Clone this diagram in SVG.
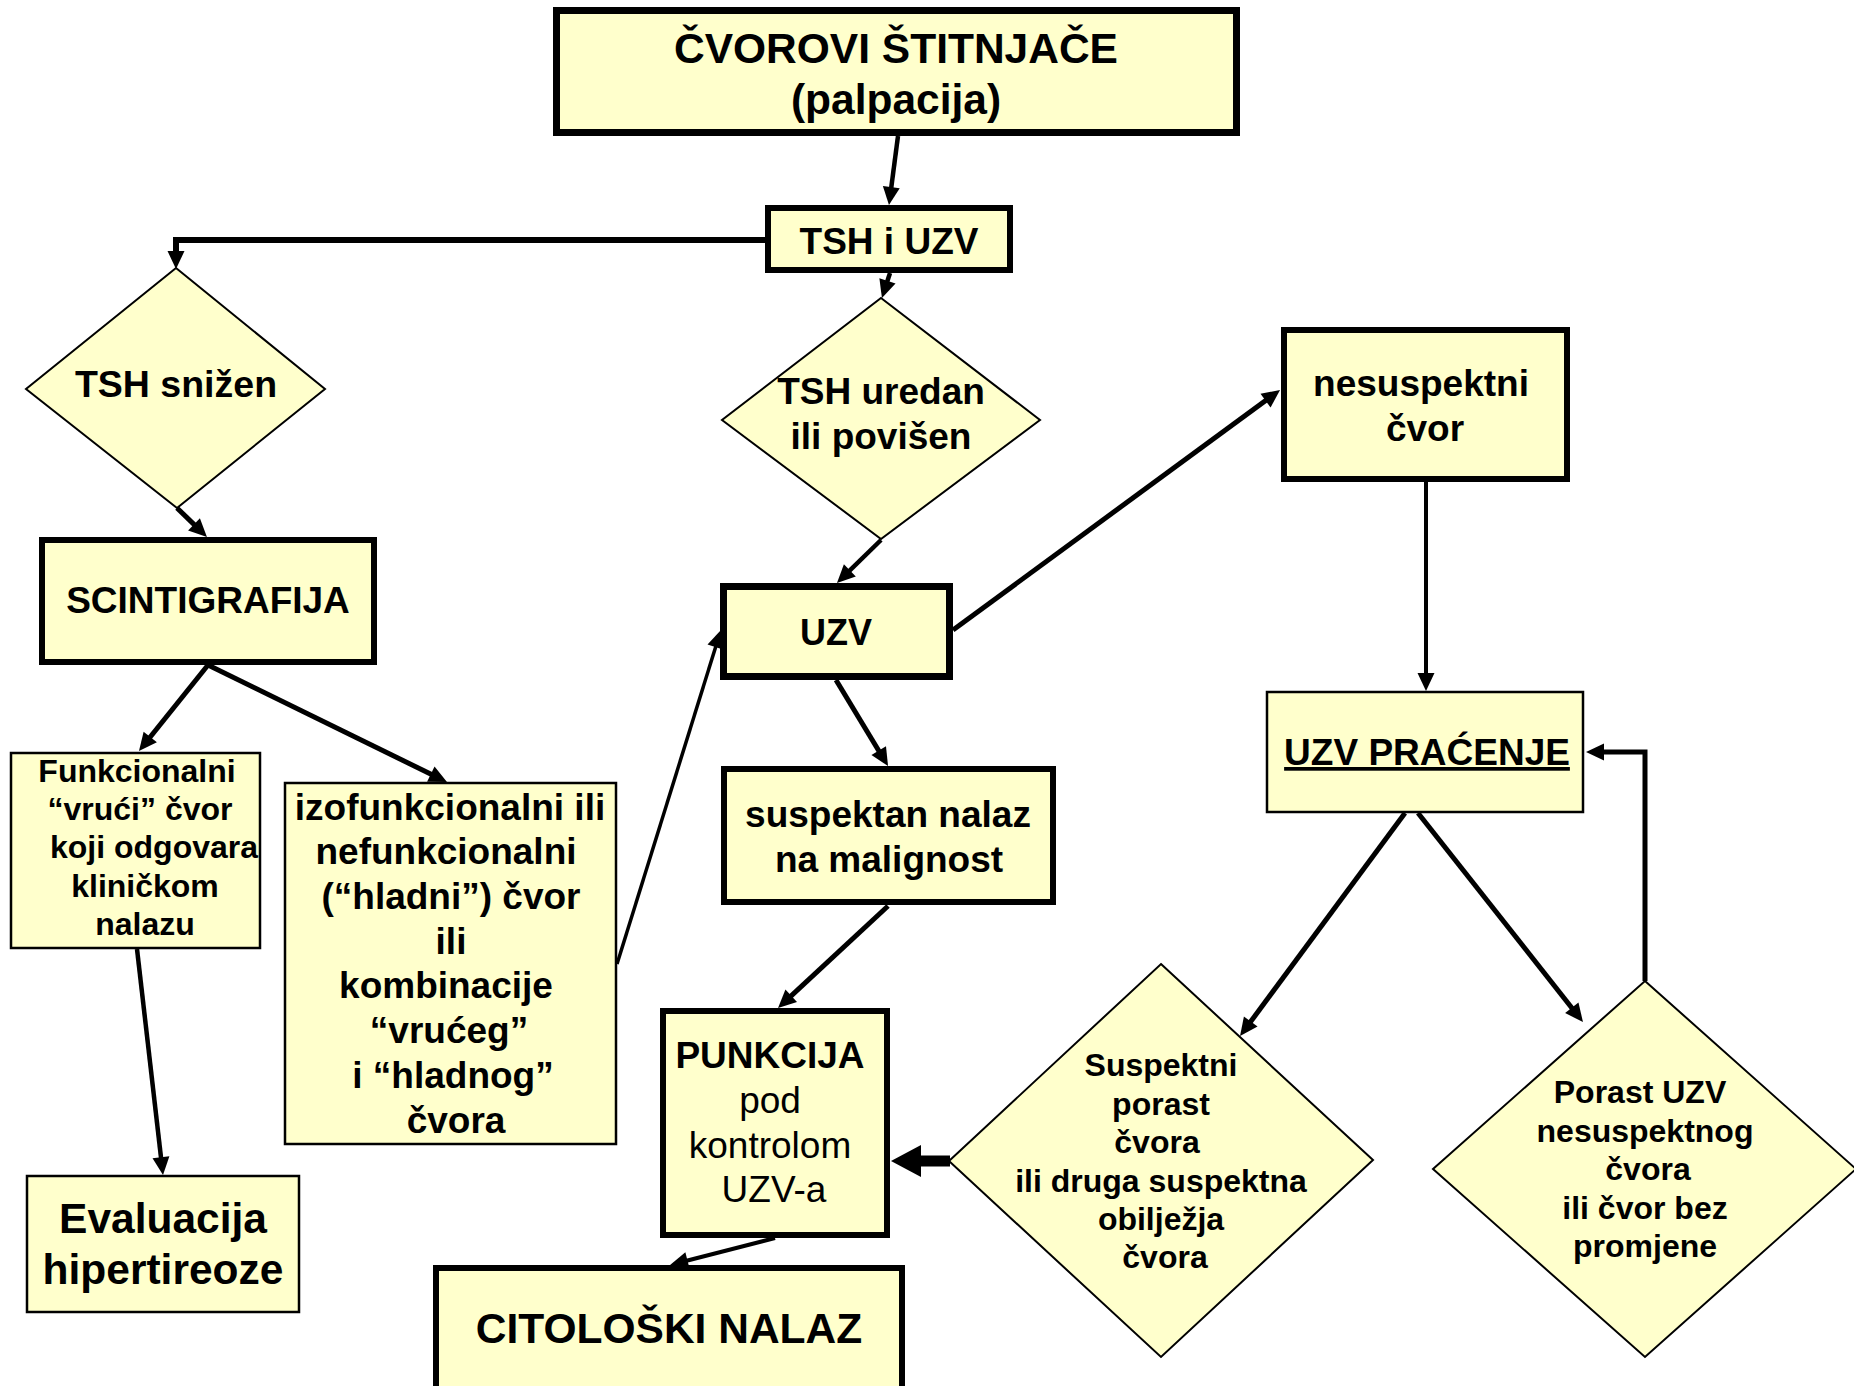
<svg xmlns="http://www.w3.org/2000/svg" width="1854" height="1386" viewBox="0 0 1854 1386">
<defs>
<style>
.box{fill:#FFFFCC;stroke:#000;}
.thick{stroke-width:6;}
.thin{stroke-width:2.5;}
.dia{fill:#FFFFCC;stroke:#000;stroke-width:2;stroke-linejoin:miter;}
text{font-family:"Liberation Sans",Arial,sans-serif;fill:#000;text-anchor:middle;}
.b{font-weight:bold;}
.c{fill:none;stroke:#000;stroke-linecap:butt;stroke-linejoin:miter;marker-end:url(#ah);}
</style>
<marker id="ah" markerUnits="userSpaceOnUse" markerWidth="18" markerHeight="17" refX="10" refY="8.5" orient="auto" overflow="visible">
<path d="M0,0 L18,8.5 L0,17 Z" fill="#000"/>
</marker>
</defs>
<rect width="1854" height="1386" fill="#fff"/>

<g id="connectors">
<line class="c" x1="898" y1="136" x2="890" y2="197.1" stroke-width="4.5"/>
<polyline class="c" points="765,240 176,240 176,261" stroke-width="6"/>
<line class="c" x1="890" y1="273" x2="884.4" y2="290.4" stroke-width="4.5"/>
<line class="c" x1="177" y1="508" x2="201.2" y2="531.4" stroke-width="5"/>
<line class="c" x1="881" y1="540" x2="842.7" y2="577.4" stroke-width="4.5"/>
<line class="c" x1="953" y1="630" x2="1273.6" y2="394.7" stroke-width="5"/>
<line class="c" x1="1426" y1="482" x2="1426" y2="683" stroke-width="4"/>
<line class="c" x1="208" y1="665" x2="144" y2="744.8" stroke-width="5"/>
<line class="c" x1="208" y1="665" x2="439.8" y2="778.5" stroke-width="5"/>
<line class="c" x1="137" y1="949" x2="162.1" y2="1167.1" stroke-width="4.5"/>
<line class="c" x1="617" y1="964" x2="718.6" y2="637.6" stroke-width="3.5"/>
<line class="c" x1="836" y1="680" x2="883.9" y2="759.2" stroke-width="5"/>
<line class="c" x1="888" y1="906" x2="783.9" y2="1002.6" stroke-width="5"/>
<line class="c" x1="775" y1="1238" x2="677.8" y2="1263" stroke-width="4"/>
<line class="c" x1="1405" y1="813" x2="1244.8" y2="1029.6" stroke-width="5"/>
<line class="c" x1="1418" y1="813" x2="1578" y2="1015.7" stroke-width="5"/>
<polyline class="c" points="1645,981 1645,752 1594,752" stroke-width="5"/>
<rect x="919" y="1155.5" width="31" height="11" fill="#000"/>
<polygon points="891,1161 921,1145 921,1177" fill="#000"/>
</g>

<g id="n-top">
<rect class="box" x="556.5" y="10.5" width="680" height="122" stroke-width="7"/>
<text class="b" x="896" y="63" font-size="42.5">ČVOROVI ŠTITNJAČE</text>
<text class="b" x="896" y="114" font-size="42.5">(palpacija)</text>
</g>

<g id="n-tsh">
<rect class="box thick" x="768" y="208" width="242" height="62"/>
<text class="b" x="889" y="254" font-size="37">TSH i UZV</text>
</g>

<g id="n-tsh-snizen">
<polygon class="dia" points="176,268 325,389 177,508 26,389"/>
<text class="b" x="176" y="397" font-size="37.5">TSH snižen</text>
</g>

<g id="n-scint">
<rect class="box thick" x="42" y="540" width="332" height="122"/>
<text class="b" x="208" y="613" font-size="37">SCINTIGRAFIJA</text>
</g>

<g id="n-tsh-uredan">
<polygon class="dia" points="881,298 1040,420 881,539 722,420"/>
<text class="b" x="881" y="404" font-size="37">TSH uredan</text>
<text class="b" x="881" y="449" font-size="37">ili povišen</text>
</g>

<g id="n-uzv">
<rect class="box" x="723.5" y="586.5" width="226" height="90" stroke-width="7"/>
<text class="b" x="836" y="645" font-size="36">UZV</text>
</g>

<g id="n-nesusp">
<rect class="box thick" x="1284" y="330" width="283" height="149"/>
<text class="b" x="1421" y="396" font-size="37">nesuspektni</text>
<text class="b" x="1425" y="441" font-size="37">čvor</text>
</g>

<g id="n-funk">
<rect class="box thin" x="11" y="753" width="249" height="195"/>
<text class="b" font-size="32"><tspan x="137" y="782">Funkcionalni</tspan><tspan x="140" y="820">“vrući” čvor</tspan><tspan x="154" y="858">koji odgovara</tspan><tspan x="145" y="897">kliničkom</tspan><tspan x="145" y="935">nalazu</tspan></text>
</g>

<g id="n-izofunk">
<rect class="box thin" x="285" y="783" width="331" height="361"/>
<text class="b" font-size="37"><tspan x="450" y="820">izofunkcionalni ili</tspan><tspan x="446" y="864">nefunkcionalni</tspan><tspan x="451" y="909">(“hladni”) čvor</tspan><tspan x="451" y="954">ili</tspan><tspan x="446" y="998">kombinacije</tspan><tspan x="449" y="1043">“vrućeg”</tspan><tspan x="453" y="1088">i “hladnog”</tspan><tspan x="456" y="1133">čvora</tspan></text>
</g>

<g id="n-eval">
<rect class="box thin" x="27" y="1176" width="272" height="136"/>
<text class="b" x="163" y="1233" font-size="42.5">Evaluacija</text>
<text class="b" x="163" y="1284" font-size="42.5">hipertireoze</text>
</g>

<g id="n-suspektan">
<rect class="box thick" x="724" y="769" width="329" height="133"/>
<text class="b" x="888" y="827" font-size="37">suspektan nalaz</text>
<text class="b" x="889" y="872" font-size="37">na malignost</text>
</g>

<g id="n-punkcija">
<rect class="box thick" x="663" y="1011" width="224" height="224"/>
<text class="b" x="770" y="1068" font-size="37">PUNKCIJA</text>
<text x="770" y="1113" font-size="37">pod</text>
<text x="770" y="1158" font-size="37">kontrolom</text>
<text x="774" y="1202" font-size="37">UZV-a</text>
</g>

<g id="n-citoloski">
<rect class="box thick" x="436" y="1268" width="466" height="140"/>
<text class="b" x="669" y="1343" font-size="42.5">CITOLOŠKI NALAZ</text>
</g>

<g id="n-pracenje">
<rect class="box thin" x="1267" y="692" width="316" height="120"/>
<text class="b" x="1427" y="765" font-size="37" text-decoration="underline">UZV PRAĆENJE</text>
</g>

<g id="n-suspektni">
<polygon class="dia" points="1161,964 1373,1160 1161,1357 949,1161"/>
<text class="b" font-size="32"><tspan x="1161" y="1076">Suspektni</tspan><tspan x="1161" y="1115">porast</tspan><tspan x="1157" y="1153">čvora</tspan><tspan x="1161" y="1192">ili druga suspektna</tspan><tspan x="1161" y="1230">obilježja</tspan><tspan x="1165" y="1268">čvora</tspan></text>
</g>

<g id="n-porast">
<polygon class="dia" points="1645,981 1856,1169 1645,1357 1433,1169"/>
<text class="b" font-size="32"><tspan x="1640" y="1103">Porast UZV</tspan><tspan x="1645" y="1142">nesuspektnog</tspan><tspan x="1648" y="1180">čvora</tspan><tspan x="1645" y="1219">ili čvor bez</tspan><tspan x="1645" y="1257">promjene</tspan></text>
</g>
</svg>
